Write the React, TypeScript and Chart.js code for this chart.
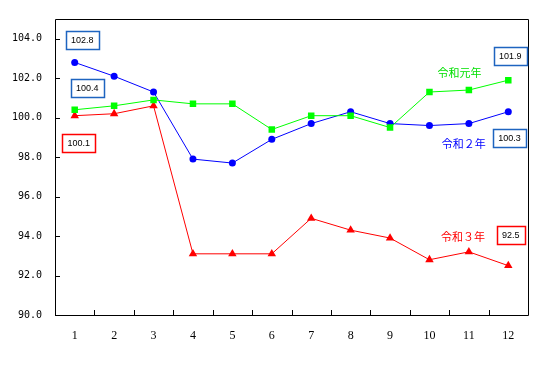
import React, { useEffect, useRef } from "react";
import { Chart, registerables } from "chart.js";

Chart.register(...registerables);

// ---- data ----
const months = ["1", "2", "3", "4", "5", "6", "7", "8", "9", "10", "11", "12"];
const reiwa1 = [100.4, 100.6, 100.9, 100.7, 100.7, 99.4, 100.1, 100.1, 99.5, 101.3, 101.4, 101.9];
const reiwa2 = [102.8, 102.1, 101.3, 97.9, 97.7, 98.9, 99.7, 100.3, 99.7, 99.6, 99.7, 100.3];
const reiwa3 = [100.1, 100.2, 100.6, 93.1, 93.1, 93.1, 94.9, 94.3, 93.9, 92.8, 93.2, 92.5];
const seriesNames = ["令和元年", "令和２年", "令和３年"];
const yMin = 90;
const yMax = 105;
const yStep = 2;

// ---- styling / annotation layout (data-unit anchors) ----
const GREEN = "#00ff00";
const BLUE = "#0000ff";
const RED = "#ff0000";
const BOX_BLUE = "#1e64c0";
const BOX_RED = "#ff0000";

const seriesLabelLayout = [
  { series: 0, x: 9.76, y: 102.28, color: "#00e000" },
  { series: 1, x: 9.87, y: 98.67, color: BLUE },
  { series: 2, x: 9.85, y: 93.94, color: RED },
];

const valueBoxLayout = [
  { values: reiwa2, index: 0, x: 0.19, y: 103.94, color: BOX_BLUE },
  { values: reiwa1, index: 0, x: 0.32, y: 101.52, color: BOX_BLUE },
  { values: reiwa3, index: 0, x: 0.1, y: 98.73, color: BOX_RED },
  { values: reiwa1, index: 11, x: 11.05, y: 103.13, color: BOX_BLUE },
  { values: reiwa2, index: 11, x: 11.03, y: 98.98, color: BOX_BLUE },
  { values: reiwa3, index: 11, x: 11.06, y: 94.06, color: BOX_RED },
];

const framePlugin = {
  id: "frame",
  beforeDatasetsDraw(chart: any) {
    const { ctx, chartArea, scales } = chart;
    const { left, right, top, bottom } = chartArea;
    const x = scales.x;
    const y = scales.y;
    ctx.save();
    ctx.strokeStyle = "#000";
    ctx.lineWidth = 1;
    ctx.beginPath();
    ctx.rect(Math.round(left) + 0.5, Math.round(top) + 0.5, Math.round(right - left), Math.round(bottom - top));
    ctx.stroke();
    // y inner tick marks
    ctx.beginPath();
    for (const t of y.ticks) {
      const py = Math.round(y.getPixelForValue(t.value)) + 0.5;
      ctx.moveTo(left, py);
      ctx.lineTo(left + 5, py);
    }
    // x inner tick marks at category boundaries
    const n = months.length;
    for (let i = 1; i < n; i++) {
      const px = Math.round(x.getPixelForValue(i - 0.5)) + 0.5;
      ctx.moveTo(px, bottom);
      ctx.lineTo(px, bottom - 5);
    }
    ctx.stroke();
    ctx.restore();
  },
  afterDatasetsDraw(chart: any) {
    const { ctx, scales } = chart;
    const x = scales.x;
    const y = scales.y;
    ctx.save();
    // series labels
    ctx.font = "11px 'Noto Sans CJK JP'";
    ctx.textAlign = "center";
    ctx.textBaseline = "middle";
    for (const l of seriesLabelLayout) {
      ctx.fillStyle = l.color;
      ctx.fillText(seriesNames[l.series], x.getPixelForValue(l.x), y.getPixelForValue(l.y));
    }
    // value boxes
    ctx.font = "9px 'Liberation Sans'";
    for (const b of valueBoxLayout) {
      const text = b.values[b.index].toFixed(1);
      const cx = x.getPixelForValue(b.x);
      const cy = y.getPixelForValue(b.y);
      const w = ctx.measureText(text).width + 10;
      const h = 18;
      const bx = Math.round(cx - w / 2) + 0.5;
      const by = Math.round(cy - h / 2) + 0.5;
      ctx.fillStyle = "#fff";
      ctx.fillRect(bx, by, Math.round(w), h);
      ctx.strokeStyle = b.color;
      ctx.lineWidth = 1.5;
      ctx.strokeRect(bx, by, Math.round(w), h);
      ctx.fillStyle = "#000";
      ctx.fillText(text, cx, cy + 0.5);
    }
    ctx.restore();
  },
};

export default function App() {
  const ref = useRef<HTMLCanvasElement | null>(null);
  useEffect(() => {
    if (!ref.current) return;
    const chart = new Chart(ref.current, {
      type: "line",
      data: {
        labels: months,
        datasets: [
          {
            label: seriesNames[0],
            data: reiwa1,
            borderColor: GREEN,
            backgroundColor: GREEN,
            borderWidth: 1,
            pointStyle: "rect",
            pointRadius: 4.6,
            pointBorderWidth: 0,
            tension: 0,
          },
          {
            label: seriesNames[1],
            data: reiwa2,
            borderColor: BLUE,
            backgroundColor: BLUE,
            borderWidth: 1,
            pointStyle: "circle",
            pointRadius: 3.5,
            pointBorderWidth: 0,
            tension: 0,
          },
          {
            label: seriesNames[2],
            data: reiwa3,
            borderColor: RED,
            backgroundColor: RED,
            borderWidth: 1,
            pointStyle: "triangle",
            pointRadius: 4.9,
            pointBorderWidth: 0,
            tension: 0,
          },
        ],
      },
      options: {
        animation: false,
        responsive: false,
        devicePixelRatio: 1,
        layout: { padding: { left: 0, right: 19, top: 19, bottom: 0 } },
        plugins: {
          legend: { display: false },
          tooltip: { enabled: false },
          title: { display: false },
        },
        scales: {
          x: {
            offset: true,
            grid: { display: false, drawTicks: false },
            border: { display: false },
            ticks: {
              color: "#000",
              padding: 14,
              font: { family: "'Liberation Serif'", size: 12 },
              maxRotation: 0,
              autoSkip: false,
            },
            afterFit: (s: any) => {
              s.height = 60;
            },
          },
          y: {
            min: yMin,
            max: yMax,
            grid: { display: false, drawTicks: false },
            border: { display: false },
            ticks: {
              stepSize: yStep,
              includeBounds: false,
              color: "#000",
              padding: 13,
              font: { family: "'DejaVu Sans Mono'", size: 10 },
              callback: (v: any) => Number(v).toFixed(1),
            },
            afterFit: (s: any) => {
              s.width = 55;
            },
          },
        },
      },
      plugins: [framePlugin],
    });
    return () => chart.destroy();
  }, []);
  return (
    <div style={{ position: "absolute", left: 0, top: 0, width: 547, height: 375, background: "#fff" }}>
      <canvas ref={ref} width={547} height={375} />
    </div>
  );
}
